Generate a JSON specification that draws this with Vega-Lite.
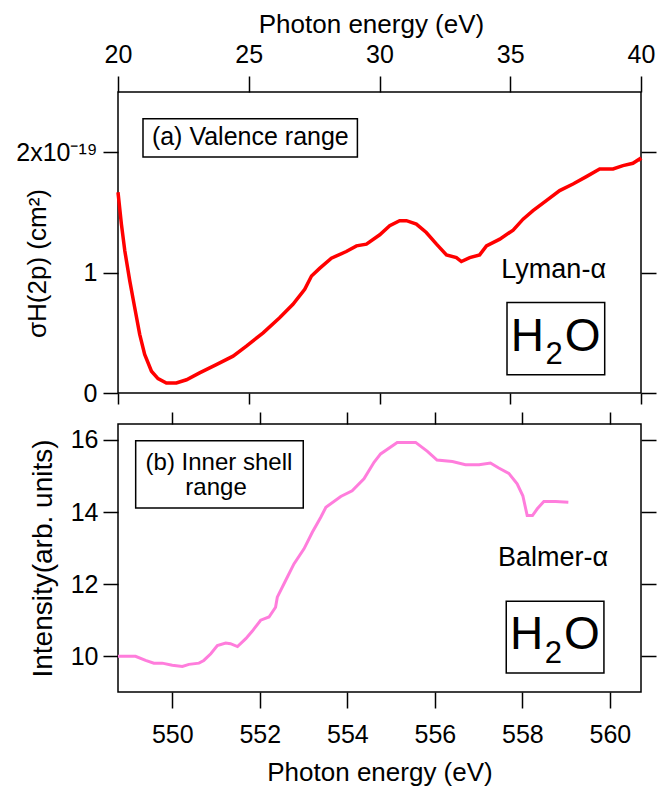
{
  "$schema": "https://vega.github.io/schema/vega-lite/v6.json",
  "background": "white",
  "padding": {"left": 15, "top": 10, "right": 0, "bottom": 0},
  "spacing": 3,
  "config": {
    "font": "Liberation Sans",
    "view": {"stroke": "black", "strokeWidth": 1.5},
    "axis": {
      "domain": false, "grid": false, "tickColor": "black", "tickWidth": 1.5,
      "labelFont": "Liberation Sans", "labelFontSize": 25, "labelColor": "black",
      "titleFont": "Liberation Sans", "titleFontSize": 26, "titleFontWeight": "normal", "titleColor": "black",
      "labelFlush": false, "labelOverlap": false
    },
    "text": {"font": "Liberation Sans", "color": "black"}
  },
  "vconcat": [
    {
      "width": 523,
      "height": 301,
      "layer": [
        {
          "data": {"values": [
            {"E": 20.0, "s": 1.667}, {"E": 20.13, "s": 1.403}, {"E": 20.26, "s": 1.181}, {"E": 20.45, "s": 0.931},
            {"E": 20.64, "s": 0.708}, {"E": 20.83, "s": 0.487}, {"E": 21.02, "s": 0.32}, {"E": 21.28, "s": 0.181},
            {"E": 21.53, "s": 0.12}, {"E": 21.85, "s": 0.083}, {"E": 22.23, "s": 0.083}, {"E": 22.62, "s": 0.11},
            {"E": 23.12, "s": 0.167}, {"E": 23.76, "s": 0.236}, {"E": 24.4, "s": 0.306}, {"E": 24.91, "s": 0.389},
            {"E": 25.55, "s": 0.5}, {"E": 26.18, "s": 0.625}, {"E": 26.69, "s": 0.737}, {"E": 27.14, "s": 0.862},
            {"E": 27.4, "s": 0.972}, {"E": 27.71, "s": 1.035}, {"E": 28.16, "s": 1.12}, {"E": 28.73, "s": 1.175},
            {"E": 29.12, "s": 1.222}, {"E": 29.5, "s": 1.236}, {"E": 30.01, "s": 1.314}, {"E": 30.39, "s": 1.389},
            {"E": 30.77, "s": 1.431}, {"E": 31.03, "s": 1.431}, {"E": 31.41, "s": 1.403}, {"E": 31.79, "s": 1.333},
            {"E": 32.18, "s": 1.236}, {"E": 32.56, "s": 1.147}, {"E": 32.94, "s": 1.125}, {"E": 33.13, "s": 1.092},
            {"E": 33.45, "s": 1.125}, {"E": 33.83, "s": 1.147}, {"E": 34.09, "s": 1.222}, {"E": 34.6, "s": 1.278},
            {"E": 35.11, "s": 1.353}, {"E": 35.49, "s": 1.444}, {"E": 35.87, "s": 1.514}, {"E": 36.38, "s": 1.597},
            {"E": 36.89, "s": 1.681}, {"E": 37.4, "s": 1.736}, {"E": 37.91, "s": 1.797}, {"E": 38.42, "s": 1.861},
            {"E": 38.93, "s": 1.861}, {"E": 39.31, "s": 1.889}, {"E": 39.69, "s": 1.908}, {"E": 39.95, "s": 1.944},
            {"E": 40.0, "s": 1.93}
          ]},
          "mark": {"type": "line", "color": "#ff0000", "strokeWidth": 3.5},
          "encoding": {
            "x": {"field": "E", "type": "quantitative",
              "scale": {"domain": [20, 40], "nice": false, "zero": false},
              "axis": {"orient": "top", "title": "Photon energy (eV)", "values": [20, 25, 30, 35, 40],
                "tickSize": 16, "labelPadding": 9, "titleY": -60, "titleX": 253, "titleBaseline": "alphabetic"}},
            "y": {"field": "s", "type": "quantitative",
              "scale": {"domain": [0, 2.5], "nice": false, "zero": false},
              "axis": {"orient": "left", "values": [0, 1, 2], "tickSize": 15, "labelPadding": 6,
                "labelExpr": "datum.value === 2 ? '2x10⁻¹⁹' : datum.label",
                "title": "σH(2p) (cm²)", "titleX": -73, "titleY": 171, "titleAngle": 270, "titleBaseline": "alphabetic"}}
          }
        },
        {
          "data": {"values": [
            {"x1": 20.956, "x2": 29.155, "y1": 1.961, "y2": 2.2775},
            {"x1": 34.876, "x2": 38.612, "y1": 0.1525, "y2": 0.7525}
          ]},
          "mark": {"type": "rect", "fill": "white", "stroke": "black", "strokeWidth": 1.5},
          "encoding": {
            "x": {"field": "x1", "type": "quantitative",
              "axis": {"orient": "bottom", "labels": false, "title": null, "values": [20, 25, 30, 35, 40], "tickSize": 11}},
            "x2": {"field": "x2"},
            "y": {"field": "y1", "type": "quantitative",
              "axis": {"orient": "right", "labels": false, "title": null, "values": [0, 1, 2], "tickSize": 15}},
            "y2": {"field": "y2"}
          }
        },
        {
          "data": {"values": [{"t": "(a) Valence range", "x": 25.06, "y": 2.056}]},
          "mark": {"type": "text", "fontSize": 25, "align": "center", "baseline": "alphabetic"},
          "encoding": {"x": {"field": "x", "type": "quantitative", "axis": null}, "y": {"field": "y", "type": "quantitative", "axis": null}, "text": {"field": "t"}}
        },
        {
          "data": {"values": [{"t": "Lyman-α", "x": 36.66, "y": 0.9525}]},
          "mark": {"type": "text", "fontSize": 27, "align": "center", "baseline": "alphabetic"},
          "encoding": {"x": {"field": "x", "type": "quantitative", "axis": null}, "y": {"field": "y", "type": "quantitative", "axis": null}, "text": {"field": "t"}}
        },
        {
          "data": {"values": [{"t": "H", "x": 35.017, "y": 0.3475}, {"t": "O", "x": 37.082, "y": 0.3475}]},
          "mark": {"type": "text", "fontSize": 46, "align": "left", "baseline": "alphabetic"},
          "encoding": {"x": {"field": "x", "type": "quantitative", "axis": null}, "y": {"field": "y", "type": "quantitative", "axis": null}, "text": {"field": "t"}}
        },
        {
          "data": {"values": [{"t": "2", "x": 36.344, "y": 0.2442}]},
          "mark": {"type": "text", "fontSize": 31, "align": "left", "baseline": "alphabetic"},
          "encoding": {"x": {"field": "x", "type": "quantitative", "axis": null}, "y": {"field": "y", "type": "quantitative", "axis": null}, "text": {"field": "t"}}
        }
      ]
    },
    {
      "width": 523,
      "height": 268,
      "layer": [
        {
          "data": {"values": [
            {"E": 548.76, "I": 10.0}, {"E": 549.16, "I": 10.0}, {"E": 549.39, "I": 9.885}, {"E": 549.58, "I": 9.81},
            {"E": 549.77, "I": 9.81}, {"E": 550.0, "I": 9.75}, {"E": 550.23, "I": 9.72}, {"E": 550.38, "I": 9.776},
            {"E": 550.61, "I": 9.81}, {"E": 550.72, "I": 9.885}, {"E": 550.88, "I": 10.07}, {"E": 551.03, "I": 10.3},
            {"E": 551.22, "I": 10.37}, {"E": 551.33, "I": 10.35}, {"E": 551.49, "I": 10.27}, {"E": 551.68, "I": 10.49},
            {"E": 551.83, "I": 10.7}, {"E": 552.02, "I": 11.0}, {"E": 552.21, "I": 11.09}, {"E": 552.36, "I": 11.36},
            {"E": 552.4, "I": 11.64}, {"E": 552.59, "I": 12.1}, {"E": 552.78, "I": 12.56}, {"E": 553.01, "I": 12.98},
            {"E": 553.2, "I": 13.44}, {"E": 553.39, "I": 13.85}, {"E": 553.51, "I": 14.13}, {"E": 553.85, "I": 14.43},
            {"E": 554.11, "I": 14.59}, {"E": 554.38, "I": 14.92}, {"E": 554.61, "I": 15.38}, {"E": 554.76, "I": 15.61},
            {"E": 555.14, "I": 15.93}, {"E": 555.56, "I": 15.93}, {"E": 555.83, "I": 15.68}, {"E": 556.05, "I": 15.44},
            {"E": 556.4, "I": 15.4}, {"E": 556.7, "I": 15.31}, {"E": 557.01, "I": 15.31}, {"E": 557.27, "I": 15.36},
            {"E": 557.46, "I": 15.22}, {"E": 557.69, "I": 15.07}, {"E": 557.88, "I": 14.78}, {"E": 558.01, "I": 14.45},
            {"E": 558.11, "I": 13.9}, {"E": 558.23, "I": 13.9}, {"E": 558.34, "I": 14.09}, {"E": 558.49, "I": 14.29},
            {"E": 558.76, "I": 14.29}, {"E": 559.05, "I": 14.27}
          ]},
          "mark": {"type": "line", "color": "#ff7ddc", "strokeWidth": 3},
          "encoding": {
            "x": {"field": "E", "type": "quantitative",
              "scale": {"domain": [548.76, 560.71], "nice": false, "zero": false},
              "axis": {"orient": "bottom", "title": "Photon energy (eV)", "values": [550, 552, 554, 556, 558, 560],
                "tickSize": 16, "labelPadding": 14, "titleY": 88, "titleBaseline": "alphabetic"}},
            "y": {"field": "I", "type": "quantitative",
              "scale": {"domain": [9.01, 16.44], "nice": false, "zero": false},
              "axis": {"orient": "left", "values": [10, 12, 14, 16], "tickSize": 15, "labelPadding": 5,
                "title": "Intensity(arb. units)", "titleFontSize": 28, "titleX": -67, "titleAngle": 270, "titleBaseline": "alphabetic"}}
          }
        },
        {
          "data": {"values": [
            {"x1": 549.164, "x2": 552.993, "y1": 14.114, "y2": 15.978},
            {"x1": 557.631, "x2": 559.863, "y1": 9.535, "y2": 11.529}
          ]},
          "mark": {"type": "rect", "fill": "white", "stroke": "black", "strokeWidth": 1.5},
          "encoding": {
            "x": {"field": "x1", "type": "quantitative",
              "axis": {"orient": "top", "labels": false, "title": null, "values": [550, 552, 554, 556, 558, 560], "tickSize": 12}},
            "x2": {"field": "x2"},
            "y": {"field": "y1", "type": "quantitative",
              "axis": {"orient": "right", "labels": false, "title": null, "values": [10, 12, 14, 16], "tickSize": 15}},
            "y2": {"field": "y2"}
          }
        },
        {
          "data": {"values": [
            {"t": "(b) Inner shell", "x": 551.067, "y": 15.16},
            {"t": "range", "x": 551.0, "y": 14.48}
          ]},
          "mark": {"type": "text", "fontSize": 24, "align": "center", "baseline": "alphabetic"},
          "encoding": {"x": {"field": "x", "type": "quantitative", "axis": null}, "y": {"field": "y", "type": "quantitative", "axis": null}, "text": {"field": "t"}}
        },
        {
          "data": {"values": [{"t": "Balmer-α", "x": 558.698, "y": 12.517}]},
          "mark": {"type": "text", "fontSize": 27, "align": "center", "baseline": "alphabetic"},
          "encoding": {"x": {"field": "x", "type": "quantitative", "axis": null}, "y": {"field": "y", "type": "quantitative", "axis": null}, "text": {"field": "t"}}
        },
        {
          "data": {"values": [{"t": "H", "x": 557.716, "y": 10.211}, {"t": "O", "x": 558.95, "y": 10.211}]},
          "mark": {"type": "text", "fontSize": 46, "align": "left", "baseline": "alphabetic"},
          "encoding": {"x": {"field": "x", "type": "quantitative", "axis": null}, "y": {"field": "y", "type": "quantitative", "axis": null}, "text": {"field": "t"}}
        },
        {
          "data": {"values": [{"t": "2", "x": 558.509, "y": 9.812}]},
          "mark": {"type": "text", "fontSize": 31, "align": "left", "baseline": "alphabetic"},
          "encoding": {"x": {"field": "x", "type": "quantitative", "axis": null}, "y": {"field": "y", "type": "quantitative", "axis": null}, "text": {"field": "t"}}
        }
      ]
    }
  ]
}
